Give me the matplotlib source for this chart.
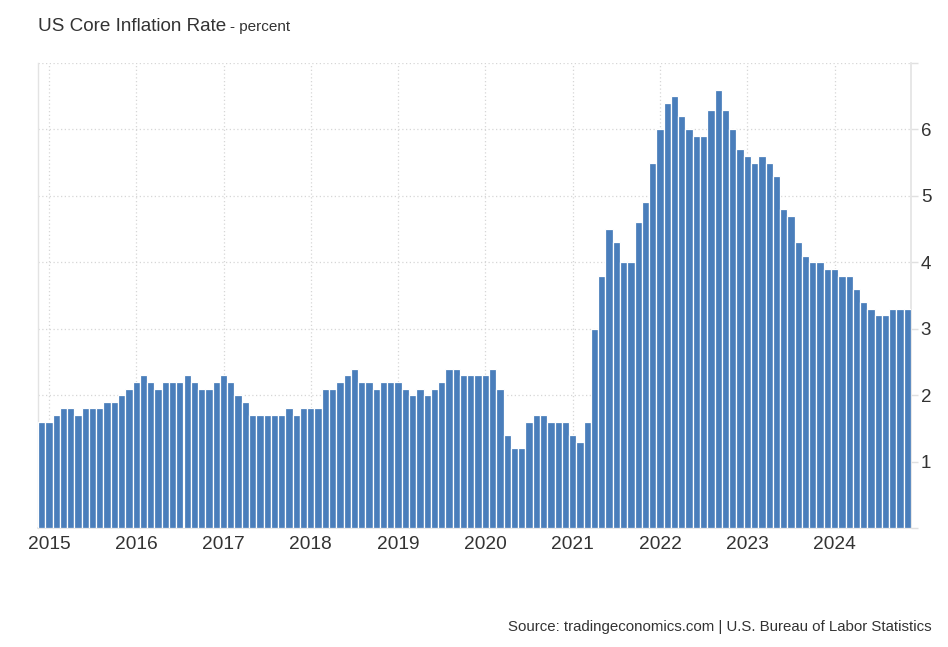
import matplotlib
matplotlib.use("Agg")
import matplotlib.pyplot as plt
import numpy as np

plt.rcParams['font.family'] = ['Liberation Sans', 'DejaVu Sans']

# Monthly values Dec 2014 .. Nov 2024
values = [
    1.6,                                                   # Dec 2014
    1.6, 1.7, 1.8, 1.8, 1.7, 1.8, 1.8, 1.8, 1.9, 1.9, 2.0, 2.1,  # 2015
    2.2, 2.3, 2.2, 2.1, 2.2, 2.2, 2.2, 2.3, 2.2, 2.1, 2.1, 2.2,  # 2016
    2.3, 2.2, 2.0, 1.9, 1.7, 1.7, 1.7, 1.7, 1.7, 1.8, 1.7, 1.8,  # 2017
    1.8, 1.8, 2.1, 2.1, 2.2, 2.3, 2.4, 2.2, 2.2, 2.1, 2.2, 2.2,  # 2018
    2.2, 2.1, 2.0, 2.1, 2.0, 2.1, 2.2, 2.4, 2.4, 2.3, 2.3, 2.3,  # 2019
    2.3, 2.4, 2.1, 1.4, 1.2, 1.2, 1.6, 1.7, 1.7, 1.6, 1.6, 1.6,  # 2020
    1.4, 1.3, 1.6, 3.0, 3.8, 4.5, 4.3, 4.0, 4.0, 4.6, 4.9, 5.5,  # 2021
    6.0, 6.4, 6.5, 6.2, 6.0, 5.9, 5.9, 6.3, 6.6, 6.3, 6.0, 5.7,  # 2022
    5.6, 5.5, 5.6, 5.5, 5.3, 4.8, 4.7, 4.3, 4.1, 4.0, 4.0, 3.9,  # 2023
    3.9, 3.8, 3.8, 3.6, 3.4, 3.3, 3.2, 3.2, 3.3, 3.3, 3.3,       # 2024
]
year_labels = ["2015", "2016", "2017", "2018", "2019", "2020", "2021", "2022", "2023", "2024"]
y_ticks = [1, 2, 3, 4, 5, 6]

title = "US Core Inflation Rate"
subtitle = "- percent"
source = "Source: tradingeconomics.com | U.S. Bureau of Labor Statistics"

W, H = 948, 647
fig = plt.figure(figsize=(W / 100, H / 100), dpi=100)
ax = fig.add_axes([38 / W, 1 - 528 / H, (911 - 38) / W, (528 - 63) / H])

x = np.arange(len(values))
ax.bar(x, values, width=1.0, color="#4a7ebb", edgecolor="white", linewidth=0.9, zorder=3)

ax.set_xlim(-0.5, len(values) - 0.5)
ax.set_ylim(0, 7)

# year ticks at January positions (index 1 = Jan 2015)
xt = [1 + 12 * i for i in range(len(year_labels))]
ax.set_xticks(xt)
ax.set_xticklabels(year_labels, fontsize=13.8, color="#333333")
ax.tick_params(axis="x", length=0, pad=6)

ax.yaxis.tick_right()
ax.set_yticks([0] + y_ticks + [7])
ax.set_yticklabels([""] + [str(v) for v in y_ticks] + [""], fontsize=13.5, color="#333333")
ax.tick_params(axis="y", length=5, color="#e0e0e0", width=1, pad=2)

ax.grid(True, axis="both", linestyle=(0, (1, 2)), color="#d6d6d6", linewidth=0.9, zorder=0)

ax.spines["top"].set_visible(False)
ax.spines["left"].set_color("#e3e3e3")
ax.spines["right"].set_color("#e3e3e3")
ax.spines["bottom"].set_color("#e3e3e3")
ax.spines["left"].set_linewidth(1)
ax.spines["right"].set_linewidth(1.2)
ax.spines["bottom"].set_linewidth(1.2)

# title
t = fig.text(38 / W, 1 - 26.5 / H, title, fontsize=13.6, color="#333333", va="center", ha="left")
fig.canvas.draw()
bb = t.get_window_extent()
fig.text((bb.x1 + 4) / W, 1 - 27.5 / H, subtitle, fontsize=11, color="#333333", va="center", ha="left")

fig.text(932 / W, 1 - 627 / H, source, fontsize=10.8, color="#333333", va="center", ha="right")

fig.savefig("out.png", dpi=100)
